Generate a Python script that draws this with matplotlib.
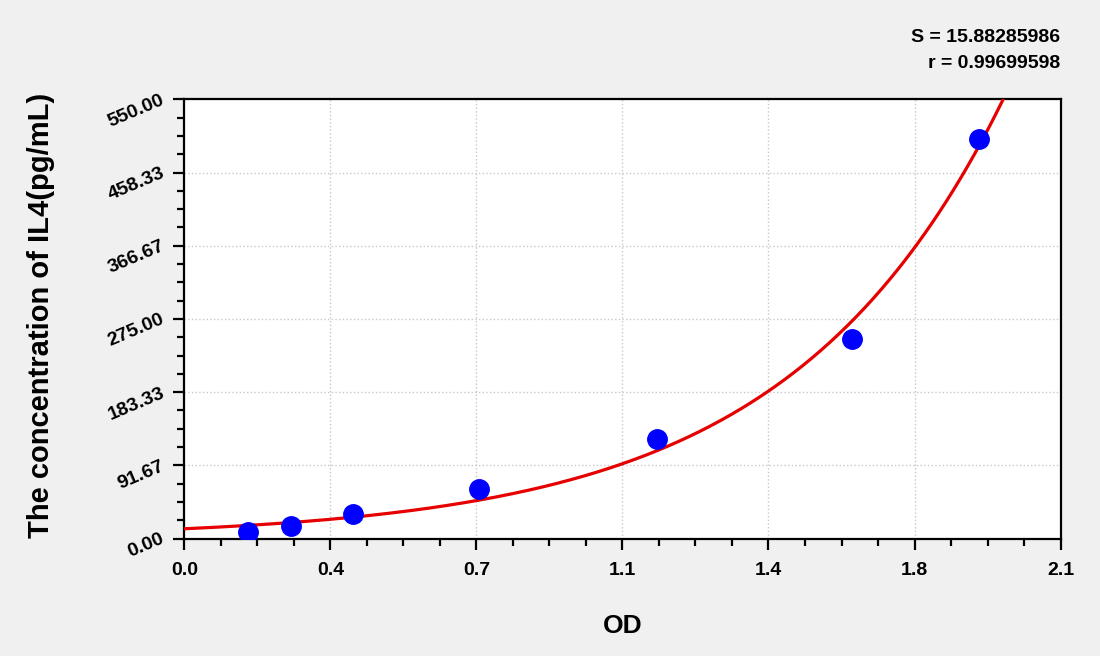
import numpy as np
import matplotlib
matplotlib.use('Agg')
import matplotlib.pyplot as plt
from matplotlib.ticker import MultipleLocator, FuncFormatter

plt.rcParams['font.family'] = ['Liberation Sans', 'DejaVu Sans']
plt.rcParams['font.weight'] = 'bold'

# standard points
od = [0.153, 0.255, 0.405, 0.707, 1.133, 1.601, 1.905]
conc = [7.8, 15.6, 31.25, 62.5, 125.0, 250.0, 500.0]

x_ticks = [0.0, 0.35, 0.7, 1.05, 1.4, 1.75, 2.1]
x_tick_labels = ['0.0', '0.4', '0.7', '1.1', '1.4', '1.8', '2.1']
y_max = 550.0
stat_lines = ['S = 15.88285986', 'r = 0.99699598']

# exponential fit y = a*exp(b*x), least squares (Gauss-Newton)
x = np.array(od)
y = np.array(conc)
b, lna = np.polyfit(x, np.log(y), 1)
a = np.exp(lna)
for _ in range(200):
    e = np.exp(b * x)
    r = y - a * e
    J = np.column_stack([e, a * x * e])
    d = np.linalg.lstsq(J, r, rcond=None)[0]
    a += d[0]
    b += d[1]
xs = np.linspace(0, 2.1, 500)
ys = a * np.exp(b * xs)

fig = plt.figure(figsize=(11, 6.56), dpi=100, facecolor='#f0f0f0')
ax = fig.add_axes([0.1677, 0.1791, 0.7964, 0.6695])
ax.set_facecolor('white')

ax.plot(xs, ys, color='#e60000', lw=2.3, zorder=3)
ax.plot(od, conc, 'o', color='#0000ff', ms=14, mec='#0000ff', zorder=4)

ax.set_xlim(0, 2.1)
ax.set_ylim(0, y_max)
ax.set_xticks(x_ticks)
ax.set_xticklabels(x_tick_labels)
ax.xaxis.set_minor_locator(MultipleLocator(0.0875))
ax.yaxis.set_major_locator(MultipleLocator(y_max / 6))
ax.yaxis.set_minor_locator(MultipleLocator(y_max / 24))
ax.yaxis.set_major_formatter(FuncFormatter(lambda v, p: f'{v:.2f}'))

ax.grid(True, which='major', color='#c8c8c8', linestyle=':', linewidth=1.0)
ax.set_axisbelow(True)

for s in ax.spines.values():
    s.set_linewidth(1.6)
    s.set_color('black')

ax.tick_params(which='both', direction='out', width=1.6, color='black')
ax.tick_params(which='major', length=8, labelsize=14)
ax.tick_params(which='minor', length=5)
ax.tick_params(axis='x', which='major', pad=9)
ax.tick_params(axis='y', which='major', pad=7)

for lbl in ax.get_yticklabels():
    lbl.set_rotation(23)
    lbl.set_rotation_mode('anchor')
    lbl.set_ha('right')
    lbl.set_va('center')
for lbl in ax.get_xticklabels() + ax.get_yticklabels():
    lbl.set_fontweight('bold')

ax.set_xlabel('OD', fontsize=19, fontweight='bold', labelpad=25)
fig.text(41 / 1100, 1 - 315 / 656, 'The concentration of IL4(pg/mL)', rotation=90,
         ha='center', va='center', fontsize=21, fontweight='bold')

fig.text(1060 / 1100, 1 - 37 / 656, stat_lines[0], ha='right', va='center',
         fontsize=14, fontweight='bold')
fig.text(1060 / 1100, 1 - 63 / 656, stat_lines[1], ha='right', va='center',
         fontsize=14, fontweight='bold')

fig.savefig('out.png', dpi=100, facecolor=fig.get_facecolor())
